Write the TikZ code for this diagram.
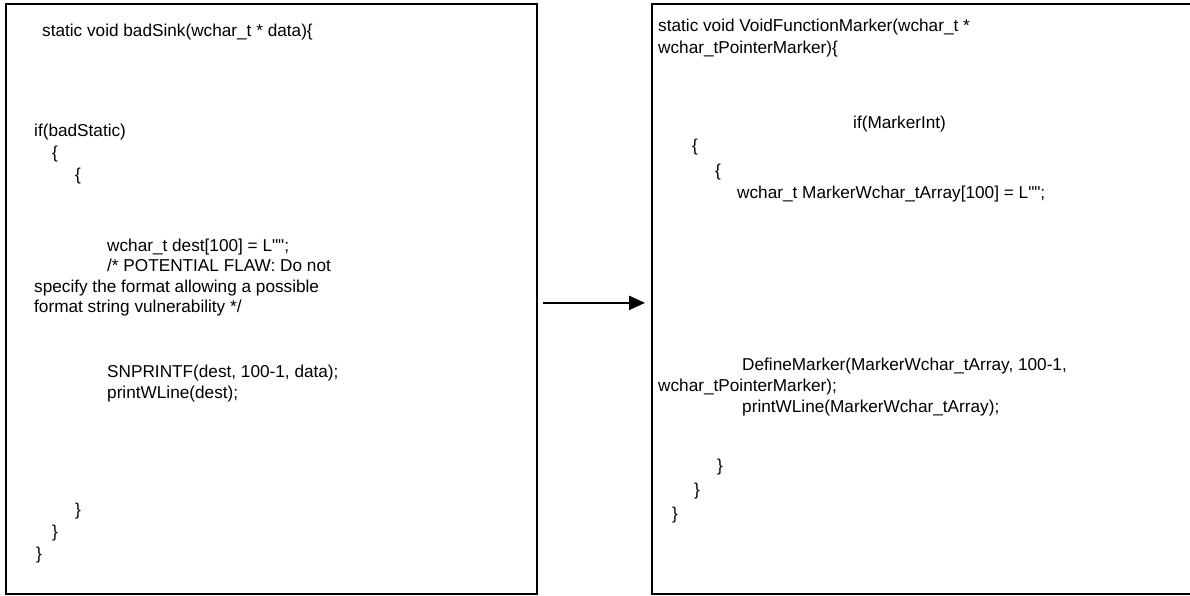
\documentclass[tikz,border=0pt]{standalone}
\usepackage{fontspec}
\setmainfont{Liberation Sans}[Ligatures=TeXOff]
\usetikzlibrary{arrows.meta}
\newcommand{\dq}{\symbol{34}}
\begin{document}
\begin{tikzpicture}[x=1pt,y=-1pt,
  codebox/.style={draw, line width=1.8pt, anchor=north west, inner sep=0pt,
    minimum height=590pt},
  codeline/.style={anchor=west, inner sep=0pt,
    font=\fontsize{17.2}{21}\selectfont, text height=12.3pt, text depth=0pt},
  flow/.style={line width=2.4pt, -{Triangle[length=16pt,width=14pt]}}]
\useasboundingbox (0,0) rectangle (1190,596);

% the two code panels
\node[codebox, minimum width=531pt] (lb) at (5,3) {};
\node[codebox, minimum width=560pt] (rb) at (651,3) {};

% original sink
\node[codeline] (l1)  at (42,30)  {static void badSink(wchar\_t * data)\{};
\node[codeline] (l2)  at (34,130) {if(badStatic)};
\node[codeline] (l3)  at (52,152) {\{};
\node[codeline] (l4)  at (75,174) {\{};
\node[codeline] (l5)  at (107,245) {wchar\_t dest[100] = L\dq\dq;};
\node[codeline] (l6)  at (107,265) {/* POTENTIAL FLAW: Do not};
\node[codeline] (l7)  at (34,286) {specify the format allowing a possible};
\node[codeline] (l8)  at (34,306) {format string vulnerability */};
\node[codeline] (l9)  at (107,371) {SNPRINTF(dest, 100-1, data);};
\node[codeline] (l10) at (107,392) {printWLine(dest);};
\node[codeline] (l11) at (75,509) {\}};
\node[codeline] (l12) at (52,531) {\}};
\node[codeline] (l13) at (36,553) {\}};

% marked version
\node[codeline] (r1)  at (658,25)  {static void VoidFunctionMarker(wchar\_t *};
\node[codeline] (r2)  at (658,47)  {wchar\_tPointerMarker)\{};
\node[codeline] (r3)  at (853,122) {if(MarkerInt)};
\node[codeline] (r4)  at (692,145) {\{};
\node[codeline] (r5)  at (715,170) {\{};
\node[codeline] (r6)  at (737,192) {wchar\_t MarkerWchar\_tArray[100] = L\dq\dq;};
\node[codeline] (r7)  at (742,364) {DefineMarker(MarkerWchar\_tArray, 100-1,};
\node[codeline] (r8)  at (658,385) {wchar\_tPointerMarker);};
\node[codeline] (r9)  at (742,406) {printWLine(MarkerWchar\_tArray);};
\node[codeline] (r10) at (717,465) {\}};
\node[codeline] (r11) at (694,489) {\}};
\node[codeline] (r12) at (672,513) {\}};

% transformation arrow
\draw[flow] ([xshift=5pt,yshift=-4pt]lb.east) -- ([xshift=-6pt,yshift=-4pt]rb.west);
\end{tikzpicture}
\end{document}
